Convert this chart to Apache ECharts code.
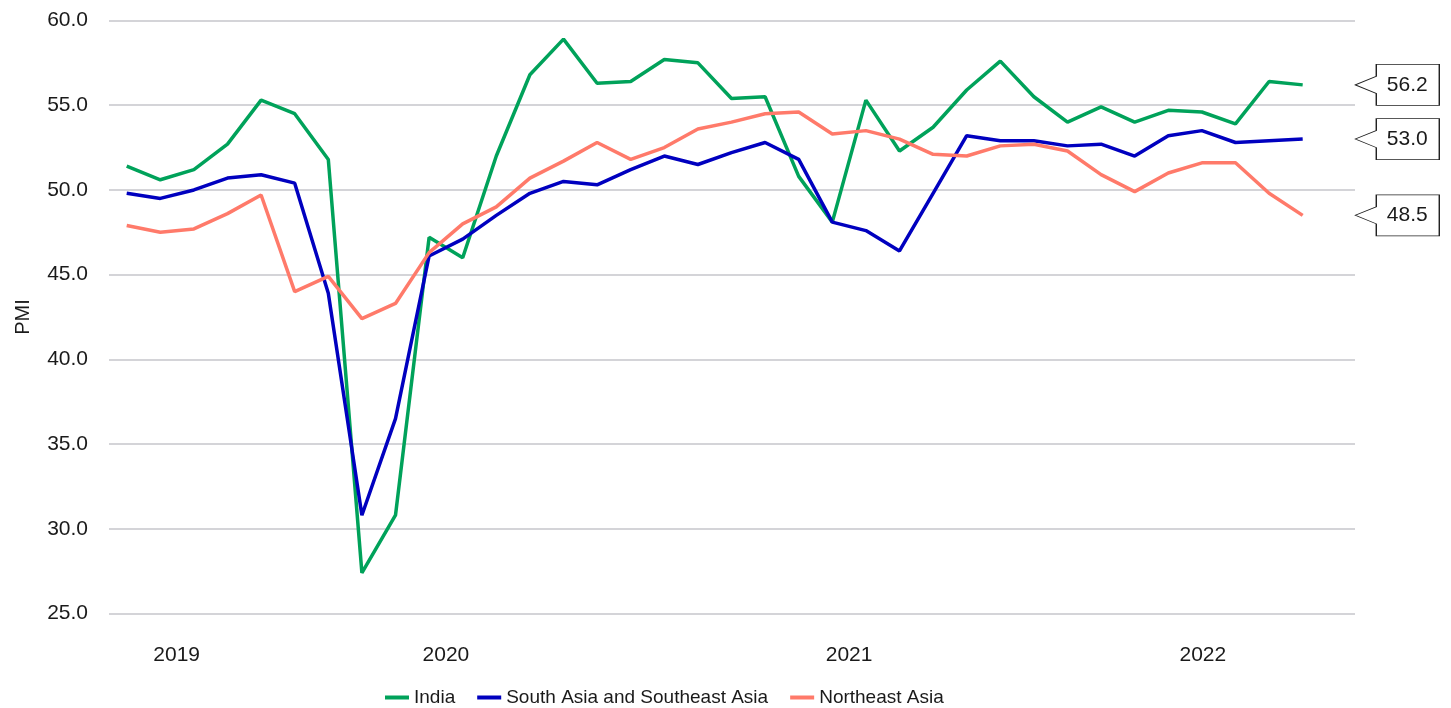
<!DOCTYPE html>
<html>
<head>
<meta charset="utf-8">
<script src="https://cdn.jsdelivr.net/npm/echarts@6/dist/echarts.min.js"></script>
<style>
  html, body { margin: 0; padding: 0; background: #fff; }
  #chart { width: 1451px; height: 708px; }
</style>
</head>
<body>
<div id="chart"></div>
<script>
// monthly PMI, Sep 2019 - Aug 2022
var months = [
  '2019-09', '2019-10', '2019-11', '2019-12',
  '2020-01', '2020-02', '2020-03', '2020-04', '2020-05', '2020-06',
  '2020-07', '2020-08', '2020-09', '2020-10', '2020-11', '2020-12',
  '2021-01', '2021-02', '2021-03', '2021-04', '2021-05', '2021-06',
  '2021-07', '2021-08', '2021-09', '2021-10', '2021-11', '2021-12',
  '2022-01', '2022-02', '2022-03', '2022-04', '2022-05', '2022-06',
  '2022-07', '2022-08'
];
var india = [51.4, 50.6, 51.2, 52.7, 55.3, 54.5, 51.8, 27.4, 30.8, 47.2,
  46.0, 52.0, 56.8, 58.9, 56.3, 56.4, 57.7, 57.5, 55.4, 55.5,
  50.8, 48.1, 55.3, 52.3, 53.7, 55.9, 57.6, 55.5, 54.0, 54.9,
  54.0, 54.7, 54.6, 53.9, 56.4, 56.2];
var southAsia = [49.8, 49.5, 50.0, 50.7, 50.9, 50.4, 43.9, 30.8, 36.5, 46.1,
  47.1, 48.5, 49.8, 50.5, 50.3, 51.2, 52.0, 51.5, 52.2, 52.8,
  51.8, 48.1, 47.6, 46.4, 49.8, 53.2, 52.9, 52.9, 52.6, 52.7,
  52.0, 53.2, 53.5, 52.8, 52.9, 53.0];
var northeastAsia = [47.9, 47.5, 47.7, 48.6, 49.7, 44.0, 44.9, 42.4, 43.3, 46.3,
  48.0, 49.0, 50.7, 51.7, 52.8, 51.8, 52.5, 53.6, 54.0, 54.5,
  54.6, 53.3, 53.5, 53.0, 52.1, 52.0, 52.6, 52.7, 52.3, 50.9,
  49.9, 51.0, 51.6, 51.6, 49.8, 48.5];
var yTicks = [25, 30, 35, 40, 45, 50, 55, 60];

var xMin = -0.527, xMax = 36.557;
var FONT = '"Liberation Sans", Arial, sans-serif';

// year label sits in the middle of that year's band; outer bands run to the plot edge
var years = [], span = {};
months.forEach(function (m, i) {
  var y = m.slice(0, 4);
  if (!span[y]) { span[y] = {first: i, last: i}; years.push(y); }
  span[y].last = i;
});
var yearPos = [], yearAt = {};
years.forEach(function (y, k) {
  var a = k === 0 ? xMin : span[y].first - 0.5;
  var b = k === years.length - 1 ? xMax : span[y].last + 0.5;
  var c = +((a + b) / 2).toFixed(4);
  yearPos.push(c);
  yearAt[c] = y;
});

function pairs(arr) {
  return arr.map(function (v, i) { return [i, v]; });
}

var callout = 'path://M0,20.5 L21,12 L21,0 L84,0 L84,41 L21,41 L21,29 Z';

function makeSeries(name, data, color) {
  var last = data.length - 1;
  return {
    name: name,
    type: 'line',
    data: pairs(data),
    showSymbol: false,
    symbol: 'none',
    clip: false,
    lineStyle: {color: color, width: 3.5},
    itemStyle: {color: color},
    emphasis: {disabled: true},
    markPoint: {
      symbol: callout,
      symbolSize: [84, 41],
      symbolOffset: [94.6, 0],
      itemStyle: {color: '#fff', borderColor: '#222', borderWidth: 1},
      label: {
        show: true,
        position: 'inside',
        offset: [10, 0],
        color: '#1a1a1a',
        fontSize: 21,
        fontFamily: FONT,
        formatter: function (p) { return p.value.toFixed(1); }
      },
      emphasis: {disabled: true},
      data: [{coord: [last, data[last]], value: data[last]}]
    }
  };
}

var chart = echarts.init(document.getElementById('chart'));
chart.setOption({
  animation: false,
  backgroundColor: '#fff',
  grid: {left: 109, right: 96, top: 20.5, bottom: 94.5},
  legend: {
    left: 380,
    top: 683,
    icon: 'rect',
    itemWidth: 24,
    itemHeight: 4,
    itemGap: 22,
    textStyle: {fontSize: 19, fontFamily: FONT, color: '#1a1a1a'},
    data: ['India', 'South Asia and Southeast Asia', 'Northeast Asia']
  },
  xAxis: {
    type: 'value',
    min: xMin,
    max: xMax,
    axisLine: {show: false},
    axisTick: {show: false},
    splitLine: {show: false},
    axisLabel: {
      customValues: yearPos,
      margin: 31,
      fontSize: 21,
      fontFamily: FONT,
      color: '#1a1a1a',
      formatter: function (v) { return yearAt[+v.toFixed(4)] || ''; }
    }
  },
  yAxis: {
    type: 'value',
    min: yTicks[0],
    max: yTicks[yTicks.length - 1],
    interval: 5,
    name: 'PMI',
    nameLocation: 'middle',
    nameGap: 76,
    nameTextStyle: {fontSize: 20, fontFamily: FONT, color: '#1a1a1a'},
    axisLine: {show: false},
    axisTick: {show: false},
    splitLine: {lineStyle: {color: '#c6c6cb', width: 1.5}},
    axisLabel: {
      margin: 21,
      fontSize: 21,
      fontFamily: FONT,
      color: '#1a1a1a',
      formatter: function (v) { return v.toFixed(1); }
    }
  },
  series: [
    makeSeries('India', india, '#00a25a'),
    makeSeries('South Asia and Southeast Asia', southAsia, '#0000bf'),
    makeSeries('Northeast Asia', northeastAsia, '#ff7a6a')
  ]
});
</script>
</body>
</html>
